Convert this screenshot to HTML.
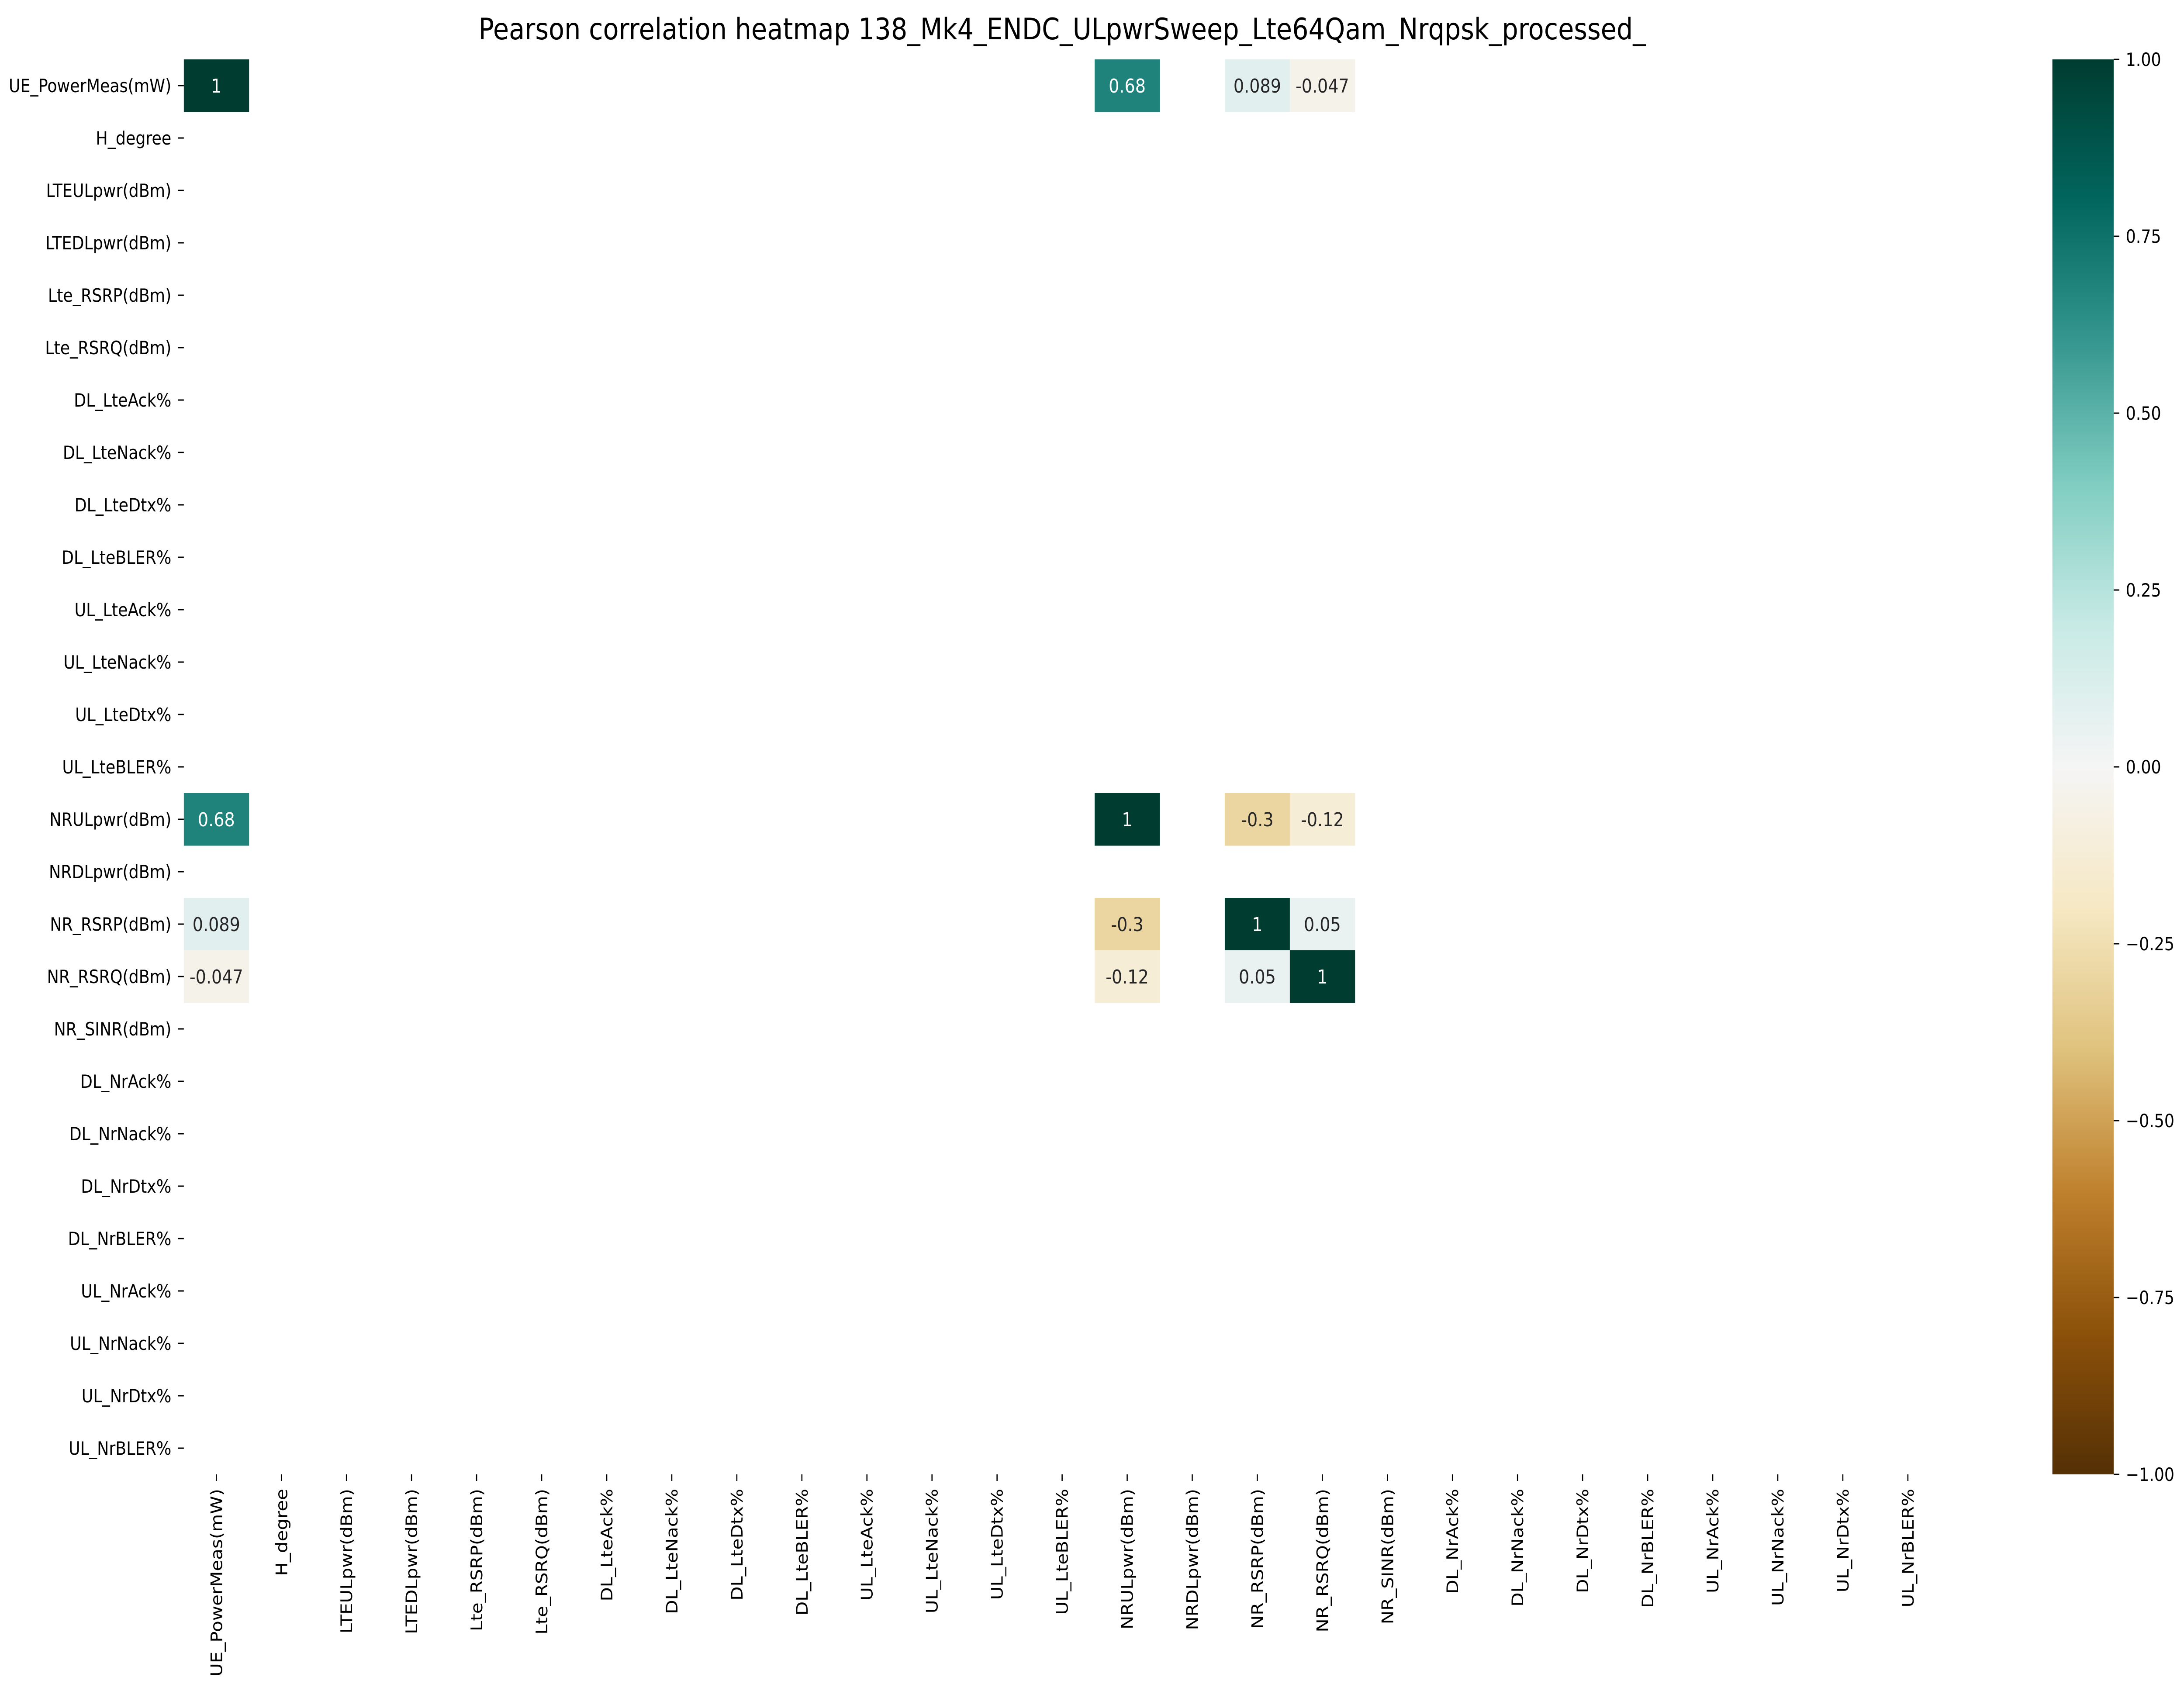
<!DOCTYPE html>
<html><head><meta charset="utf-8"><style>
html,body{margin:0;padding:0;background:#fff;width:100%;height:100%;overflow:hidden;}
svg{display:block;position:fixed;left:0;top:0;width:100vw;height:100vh;font-family:"DejaVu Sans","Liberation Sans",sans-serif;}
</style></head><body>
<svg id="chart" xmlns="http://www.w3.org/2000/svg" viewBox="0 0 5774 3856" preserveAspectRatio="none">
<defs>
<linearGradient id="cbgrad" x1="0" y1="1" x2="0" y2="0">
<stop offset="0" stop-color="#543005"/><stop offset="0.1" stop-color="#8c510a"/><stop offset="0.2" stop-color="#bf812d"/><stop offset="0.3" stop-color="#dfc27d"/><stop offset="0.4" stop-color="#f6e8c3"/><stop offset="0.5" stop-color="#f5f5f5"/><stop offset="0.6" stop-color="#c7eae5"/><stop offset="0.7" stop-color="#80cdc1"/><stop offset="0.8" stop-color="#35978f"/><stop offset="0.9" stop-color="#01665e"/><stop offset="1" stop-color="#003c30"/>
</linearGradient>
</defs>
<text x="2808" y="90" text-anchor="middle" font-size="68" fill="#000">Pearson correlation heatmap 138_Mk4_ENDC_ULpwrSweep_Lte64Qam_Nrqpsk_processed_</text>
<g id="cells"></g><g id="ylab"></g><g id="xlab"></g>
<rect x="5426" y="136" width="162" height="3240" fill="url(#cbgrad)"/>
<g id="cbticks"></g>
</svg>
<script>
const labels=["UE_PowerMeas(mW)","H_degree","LTEULpwr(dBm)","LTEDLpwr(dBm) ","Lte_RSRP(dBm)","Lte_RSRQ(dBm)","DL_LteAck%","DL_LteNack%","DL_LteDtx%","DL_LteBLER%","UL_LteAck%","UL_LteNack%","UL_LteDtx%","UL_LteBLER%","NRULpwr(dBm)","NRDLpwr(dBm)","NR_RSRP(dBm)","NR_RSRQ(dBm)","NR_SINR(dBm)","DL_NrAck%","DL_NrNack%","DL_NrDtx%","DL_NrBLER%","UL_NrAck%","UL_NrNack%","UL_NrDtx%","UL_NrBLER%"];
const pairRow=[0,0,0,0,14,14,14,16,16,17];
const pairCol=[0,14,16,17,14,16,17,16,17,17];
const pairVal=[1,0.68,0.089,-0.047,1,-0.3,-0.12,1,0.05,1];
const pairText=["1","0.68","0.089","-0.047","1","-0.3","-0.12","1","0.05","1"];
const cbTicks=[1,0.75,0.5,0.25,0,-0.25,-0.5,-0.75,-1];
const cbTickText=["1.00","0.75","0.50","0.25","0.00","\u22120.25","\u22120.50","\u22120.75","\u22121.00"];

const NS="http://www.w3.org/2000/svg";
const L=486,T=136,CW=172,RH=120,N=labels.length;
const xs=i=>L+i*CW, ys=i=>T+i*RH;
const cbY=v=>T+(1-v)/2*N*RH;
const stops=["#543005","#8c510a","#bf812d","#dfc27d","#f6e8c3","#f5f5f5","#c7eae5","#80cdc1","#35978f","#01665e","#003c30"];
function hex(h){return [1,3,5].map(k=>parseInt(h.substr(k,2),16));}
function cmap(v){let t=(v+1)/2*10;let i=Math.min(9,Math.floor(t));let f=t-i;let a=hex(stops[i]),b=hex(stops[i+1]);let c=a.map((x,k)=>Math.round(x+(b[k]-x)*f));return {rgb:`rgb(${c[0]},${c[1]},${c[2]})`,lum:(0.299*c[0]+0.587*c[1]+0.114*c[2])/255};}
function mk(tag,attrs,parent){const e=document.createElementNS(NS,tag);for(const k in attrs)e.setAttribute(k,attrs[k]);parent.appendChild(e);return e;}
const cells=document.getElementById('cells');
function drawCell(r,c,v,txt){
  const col=cmap(v);
  const rect=mk('rect',{x:xs(c),y:ys(r),width:CW+0.5,height:RH+0.5,fill:col.rgb},cells);
  
  
  const t=mk('text',{x:xs(c)+CW/2,y:ys(r)+RH/2+16,'text-anchor':'middle','font-size':44,fill:col.lum<0.5?'#fff':'#262626'},cells);
  
  
  t.textContent=txt;
}
for(let k=0;k<pairVal.length;k++){
  drawCell(pairRow[k],pairCol[k],pairVal[k],pairText[k]);
  if(pairRow[k]!==pairCol[k]) drawCell(pairCol[k],pairRow[k],pairVal[k],pairText[k]);
}
const yl=document.getElementById('ylab'),xl=document.getElementById('xlab');
labels.forEach((lab,i)=>{
  const cy=ys(i)+RH/2;
  const tk=mk('line',{x1:L-15,x2:L,y1:cy,y2:cy,stroke:'#000','stroke-width':3},yl);
  
  
  const t=mk('text',{x:L-33,y:cy+15,'text-anchor':'end','font-size':42,fill:'#000'},yl);
  
  
  t.textContent=lab.trim();
  const cx=xs(i)+CW/2,by=T+N*RH;
  const tk2=mk('line',{x1:cx,x2:cx,y1:by,y2:by+15,stroke:'#000','stroke-width':3},xl);
  
  
  const t2=mk('text',{x:cx+15,y:by+33,'text-anchor':'end','font-size':42,fill:'#000',transform:`rotate(-90 ${cx+15} ${by+33})`},xl);
  
  
  t2.textContent=lab.trim();
});
const cb=document.getElementById('cbticks');
cbTicks.forEach((v,i)=>{
  const y=cbY(v);
  const tk=mk('line',{x1:5588,x2:5603,y1:y,y2:y,stroke:'#000','stroke-width':3},cb);
  
  
  const t=mk('text',{x:5620,y:y+15,'font-size':42,fill:'#000'},cb);
  
  
  t.textContent=cbTickText[i];
});
</script>
</body></html>
